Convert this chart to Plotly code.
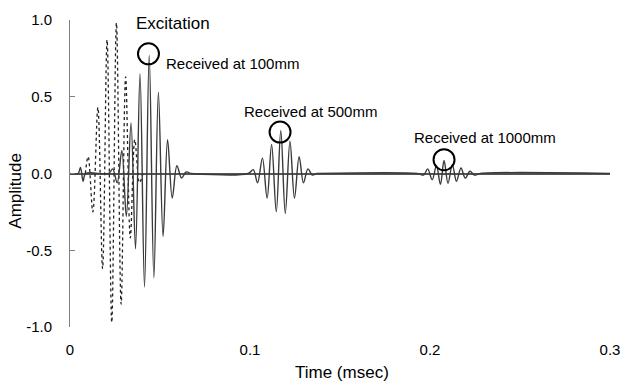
import plotly.graph_objects as go

# ---- data (burst extrema, time in msec) ----
exc_t = [0.0085, 0.0101, 0.0127, 0.0155, 0.0181, 0.0206, 0.0232, 0.0258, 0.0284, 0.0309, 0.0335, 0.0360, 0.0386, 0.0405]
exc_a = [0.0, 0.11, -0.25, 0.43, -0.62, 0.87, -0.97, 0.98, -0.85, 0.63, -0.42, 0.22, -0.06, 0.0]

r100_t = [0.0, 0.0045, 0.0058, 0.0073, 0.0087, 0.0215, 0.0237, 0.0262, 0.0288, 0.0313, 0.0339, 0.0364, 0.0389, 0.0414,
          0.0440, 0.0466, 0.0491, 0.0517, 0.0542, 0.0568, 0.0594, 0.0620, 0.0645, 0.0670]
r100_a = [0.0, 0.0, 0.04, -0.05, 0.0, 0.0, 0.03, -0.06, 0.15, -0.28, 0.33, -0.49, 0.65, -0.74,
          0.77, -0.68, 0.53, -0.41, 0.22, -0.16, 0.05, -0.03, 0.01, 0.0]

r500_t = [0.0670, 0.0990, 0.1018, 0.1042, 0.1069, 0.1095, 0.1120, 0.1146, 0.1171, 0.1196, 0.1222, 0.1247, 0.1273, 0.1297, 0.1322, 0.1346, 0.1370]
r500_a = [0.0, 0.0, 0.025, -0.06, 0.10, -0.16, 0.19, -0.25, 0.28, -0.26, 0.21, -0.16, 0.11, -0.06, 0.03, -0.01, 0.0]

r1000_t = [0.1370, 0.1930, 0.1965, 0.1987, 0.2012, 0.2036, 0.2058, 0.2078, 0.2100, 0.2124, 0.2147, 0.2172, 0.2196, 0.2222, 0.2246, 0.2280, 0.3000]
r1000_a = [0.0, 0.0, -0.01, 0.03, -0.04, 0.05, -0.07, 0.085, -0.064, 0.058, -0.05, 0.036, -0.03, 0.015, -0.01, 0.0, 0.0]

x_ticks = [0, 0.1, 0.2, 0.3]
x_tick_labels = ["0", "0.1", "0.2", "0.3"]
y_ticks = [-1.0, -0.5, 0.0, 0.5, 1.0]
y_tick_labels = ["-1.0", "-0.5", "0.0", "0.5", "1.0"]

labels = ["Excitation", "Received at 100mm", "Received at 500mm", "Received at 1000mm"]
label_x = [0.0355, 0.0524, 0.0955, 0.1898]
label_y = [0.975, 0.715, 0.405, 0.235]
label_size = [17, 15, 15, 15]

circle_x = [0.0436, 0.1167, 0.2078]
circle_y = [0.78, 0.27, 0.09]

FONT = "Liberation Sans, Arial, sans-serif"
SOLID = "#3a3a3a"

fig = go.Figure()
fig.add_trace(go.Scatter(x=exc_t, y=exc_a, mode="lines",
                         line=dict(color="#222222", width=1.3, dash="dot", shape="spline", smoothing=1.0),
                         showlegend=False, hoverinfo="skip"))
for tt, aa in [(r100_t, r100_a), (r500_t, r500_a), (r1000_t, r1000_a)]:
    fig.add_trace(go.Scatter(x=tt, y=aa, mode="lines",
                             line=dict(color=SOLID, width=1.4, shape="spline", smoothing=1.0),
                             showlegend=False, hoverinfo="skip"))

for txt, lx, ly, fs in zip(labels, label_x, label_y, label_size):
    fig.add_annotation(x=lx, y=ly, xref="x", yref="y", text=txt, showarrow=False,
                       xanchor="left", yanchor="middle", font=dict(family=FONT, size=fs, color="black"))

for cx, cy in zip(circle_x, circle_y):
    fig.add_shape(type="circle", xref="x", yref="y", xsizemode="pixel", ysizemode="pixel",
                  xanchor=cx, yanchor=cy, x0=-10.5, x1=10.5, y0=-10.5, y1=10.5,
                  line=dict(color="black", width=2))

fig.add_annotation(x=-0.1, y=0.444, xref="paper", yref="paper", text="Amplitude", textangle=-90,
                   xanchor="center", yanchor="middle",
                   showarrow=False, font=dict(family=FONT, size=17, color="black"))
fig.add_annotation(x=0.5036, y=-0.147, xref="paper", yref="paper", text="Time (msec)",
                   xanchor="center", yanchor="middle",
                   showarrow=False, font=dict(family=FONT, size=17, color="black"))

fig.update_layout(
    width=631, height=385,
    margin=dict(l=70, r=11, t=14, b=58),
    paper_bgcolor="white", plot_bgcolor="white",
    font=dict(family=FONT, size=15, color="black"),
    xaxis=dict(range=[0, 0.3], tickvals=x_ticks, ticktext=x_tick_labels, showline=False,
               showgrid=False, zeroline=False, ticks="", ticklabelstandoff=12,
               tickfont=dict(family=FONT, size=15, color="black")),
    yaxis=dict(range=[-1, 1], tickvals=y_ticks, ticktext=y_tick_labels, showline=True,
               linecolor="#808080", linewidth=1, ticks="inside", ticklen=5, tickcolor="#808080",
               showgrid=False, zeroline=True, zerolinecolor="#555555", zerolinewidth=2,
               ticklabelstandoff=14, tickfont=dict(family=FONT, size=15, color="black")),
)

fig.write_html("out.html", config={"displayModeBar": False},
               post_script="document.body.style.margin='0';document.body.style.overflow='hidden';")
